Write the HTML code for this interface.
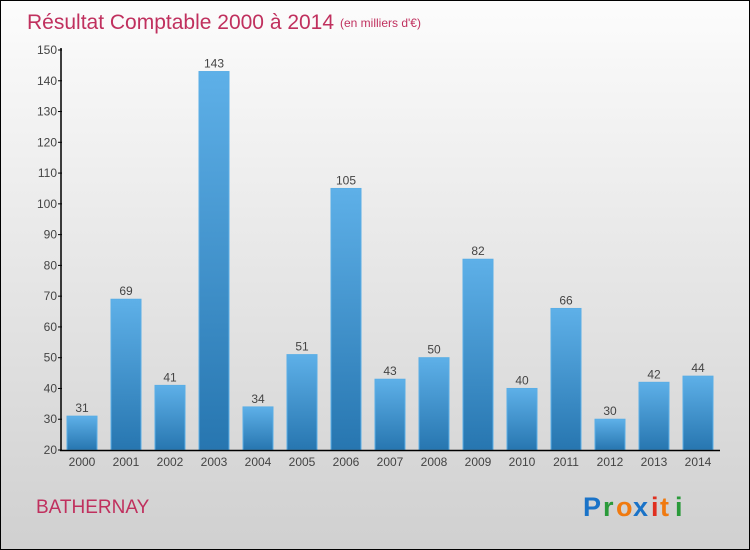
<!DOCTYPE html>
<html><head><meta charset="utf-8"><style>
html,body{margin:0;padding:0}
body{width:750px;height:550px;overflow:hidden;font-family:"Liberation Sans",sans-serif}
#wrap{position:absolute;left:0;top:0;width:748px;height:548px;border:1px solid #000;background:linear-gradient(#fcfcfc,#d0d0d0)}
</style></head><body>
<div id="wrap">
<svg id="chart" width="750" height="550" style="position:absolute;left:-1px;top:-1px">
<defs><linearGradient id="bg" x1="0" y1="0" x2="0" y2="1"><stop offset="0" stop-color="#5eb0e8"/><stop offset="1" stop-color="#2776b0"/></linearGradient></defs>
<text x="27" y="29" font-size="21" fill="#c0305e">Résultat Comptable 2000 à 2014</text>
<text x="340" y="27" font-size="12" fill="#c0305e">(en milliers d'€)</text>
<text x="36" y="513" font-size="19" fill="#c0305e">BATHERNAY</text>
<g font-size="27" font-weight="bold" font-family="'Liberation Sans',sans-serif">
<text x="583" y="516" fill="#1a73c8">P</text><text x="603" y="516" fill="#2a9a3a">r</text><text x="616" y="516" fill="#f07a10">o</text><text x="633" y="516" fill="#1a73c8">x</text><text x="651" y="516" fill="#e03020">i</text><text x="660" y="516" fill="#f07a10">t</text><text x="675" y="516" fill="#2a9a3a">i</text></g>
</svg>
</div>
<script>
const years=["2000","2001","2002","2003","2004","2005","2006","2007","2008","2009","2010","2011","2012","2013","2014"];
const values=[31,69,41,143,34,51,105,43,50,82,40,66,30,42,44];
const yTicks=[20,30,40,50,60,70,80,90,100,110,120,130,140,150];
const svg=document.getElementById('chart');
const NS='http://www.w3.org/2000/svg';
const y=v=>450-(v-20)*(400/130);
const x=i=>82+44*i;
function el(t,a){const e=document.createElementNS(NS,t);for(const k in a)e.setAttribute(k,a[k]);svg.appendChild(e);return e;}
yTicks.forEach(t=>{
 const l=el('line',{x1:58,x2:62,y1:y(t),y2:y(t),stroke:'#000'});
 
 
 const tx=el('text',{x:57,y:y(t)+4,'text-anchor':'end','font-size':12,fill:'#444'});
 tx.textContent=t;
 
 
});
values.forEach((v,i)=>{
 const r=el('rect',{x:x(i)-15,y:y(v),width:30,height:450-y(v),fill:'url(#bg)',stroke:'#5aaee6','stroke-width':1});
 
 
 const vt=el('text',{x:x(i),y:y(v)-4,'text-anchor':'middle','font-size':12,fill:'#444'});
 vt.textContent=v;
 
 
 const xt=el('text',{x:x(i),y:466,'text-anchor':'middle','font-size':12,fill:'#444'});
 xt.textContent=years[i];
 
 
});
const ya=el('line',{x1:61,x2:61,y1:48,y2:451,stroke:'#000','stroke-width':1.5});


const xa=el('line',{x1:60,x2:720,y1:450.5,y2:450.5,stroke:'#000','stroke-width':1.5});


</script>
</body></html>
